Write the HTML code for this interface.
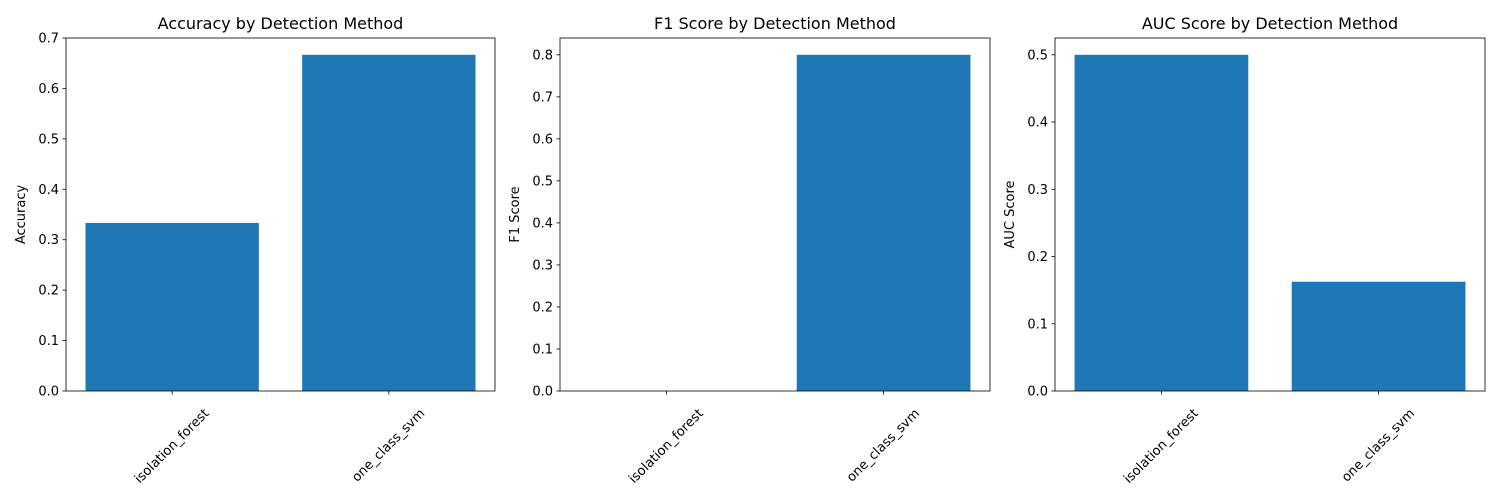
<!DOCTYPE html>
<html><head><meta charset="utf-8"><style>
body{margin:0;background:#fff;}
svg{display:block;font-family:"DejaVu Sans","Liberation Sans",sans-serif;}
</style></head><body>
<svg id="c" width="1500" height="500"></svg>
<script>
const categories=["isolation_forest","one_class_svm"];
const accuracyValues=[0.3333,0.6667];
const f1Values=[0.0,0.8];
const aucValues=[0.5,0.1625];
const accuracyTicks=[0,0.1,0.2,0.3,0.4,0.5,0.6,0.7];
const f1Ticks=[0,0.1,0.2,0.3,0.4,0.5,0.6,0.7,0.8];
const aucTicks=[0,0.1,0.2,0.3,0.4,0.5];
const panels=[
 {title:"Accuracy by Detection Method",ylabel:"Accuracy",vals:accuracyValues,ticks:accuracyTicks,left:66,right:495},
 {title:"F1 Score by Detection Method",ylabel:"F1 Score",vals:f1Values,ticks:f1Ticks,left:560,right:990},
 {title:"AUC Score by Detection Method",ylabel:"AUC Score",vals:aucValues,ticks:aucTicks,left:1055,right:1485}
];
const NS="http://www.w3.org/2000/svg";
const svgEl=document.getElementById('c');
function mk(t,a,p){const e=document.createElementNS(NS,t);for(const k in a)e.setAttribute(k,a[k]);(p||svgEl).appendChild(e);return e;}
const axTop=38,axBot=391;
panels.forEach((P,pi)=>{
 const g=mk('g',{});
 
 
 const ymax=Math.max(...P.vals)*1.05;
 const y=v=>axBot-(v/ymax)*(axBot-axTop);
 const x=v=>P.left+(v+0.49)/1.98*(P.right-P.left);
 P.vals.forEach((v,i)=>{
  const r=mk('rect',{x:x(i-0.4),y:y(v),width:x(i+0.4)-x(i-0.4),height:axBot-y(v),fill:'#1f77b4'},g);
  
  
 });
 const fr=mk('rect',{x:P.left,y:axTop,width:P.right-P.left,height:axBot-axTop,fill:'none',stroke:'#000','stroke-width':0.8},g);
 
 
 P.ticks.forEach(t=>{
  const yy=y(t);
  mk('line',{x1:P.left-3.5,x2:P.left,y1:yy,y2:yy,stroke:'#000','stroke-width':0.8},g);
  const tx=mk('text',{x:P.left-7,y:yy+4.5,'text-anchor':'end','font-size':13},g);
  tx.textContent=t.toFixed(1);
  
  
 });
 categories.forEach((c,i)=>{
  const xx=x(i);
  mk('line',{x1:xx,x2:xx,y1:axBot,y2:axBot+3.5,stroke:'#000','stroke-width':0.8},g);
  const tx=mk('text',{x:xx,y:0,'text-anchor':'middle','dominant-baseline':'central','font-size':13},g);
  tx.textContent=c;
  
  
  const w=tx.getComputedTextLength();
  const cy=axBot+16+(w+13)*0.7071/2;
  tx.setAttribute('y',cy);
  tx.setAttribute('transform',`rotate(-45 ${xx} ${cy})`);
 });
 const ti=mk('text',{x:(P.left+P.right)/2,y:29,'text-anchor':'middle','font-size':16},g);
 ti.textContent=P.title;
 
 
 const yl=mk('text',{x:P.left-41,y:(axTop+axBot)/2,'text-anchor':'middle','font-size':13,transform:`rotate(-90 ${P.left-41} ${(axTop+axBot)/2})`},g);
 yl.textContent=P.ylabel;
 
 
});
</script>
</body></html>
